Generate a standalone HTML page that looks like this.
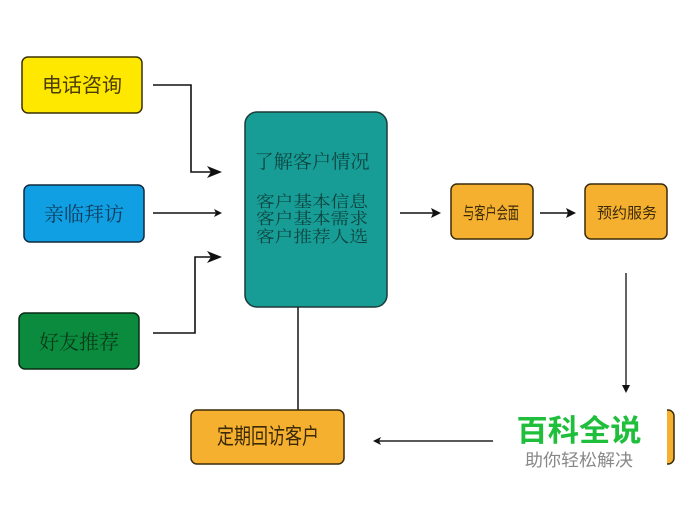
<!DOCTYPE html>
<html><head><meta charset="utf-8"><style>
html,body{margin:0;padding:0;background:#fff;}
svg{display:block;}
</style></head><body>
<svg width="692" height="505" viewBox="0 0 692 505" xmlns="http://www.w3.org/2000/svg">
<rect width="692" height="505" fill="#fff"/>
<!-- left boxes -->
<rect x="22" y="57" width="120" height="56" rx="6" fill="#ffe800" stroke="#3a3000" stroke-width="1.5"/>
<text x="82" y="92" text-anchor="middle" font-family="'Liberation Sans','Noto Sans CJK SC',sans-serif" font-size="20" fill="#4a3c05" textLength="80" lengthAdjust="spacingAndGlyphs">电话咨询</text>
<rect x="24" y="185" width="120" height="57" rx="6" fill="#109fe2" stroke="#0d2a40" stroke-width="1.5"/>
<text x="84" y="221" text-anchor="middle" font-family="'Noto Serif CJK SC','Liberation Serif',serif" font-size="20" fill="#0d3a5a" textLength="80" lengthAdjust="spacingAndGlyphs">亲临拜访</text>
<rect x="19" y="313" width="120" height="56" rx="6" fill="#0b8b3d" stroke="#0a2a15" stroke-width="1.5"/>
<text x="79" y="349" text-anchor="middle" font-family="'Noto Serif CJK SC','Liberation Serif',serif" font-size="20" fill="#0a3a1a" textLength="80" lengthAdjust="spacingAndGlyphs">好友推荐</text>

<!-- left connectors -->
<g stroke="#111" stroke-width="1.6" fill="none">
<polyline points="153,85 191,85 191,172 214,172"/>
<line x1="153" y1="213" x2="217" y2="213"/>
<polyline points="153,333 195,333 195,257 214,257"/>
</g>
<g fill="#111">
<path d="M222,172 L207,166 L211,172 L207,178 Z"/>
<path d="M222,213 L214,209 L216,213 L214,217 Z"/>
<path d="M222,257 L207,251 L211,257 L207,263 Z"/>
</g>

<!-- teal box -->
<rect x="245" y="112" width="142" height="195" rx="12" fill="#179d95" stroke="#1c3a38" stroke-width="1.5"/>
<text x="312" y="168" text-anchor="middle" font-family="'Noto Serif CJK SC','Liberation Serif',serif" font-size="19" fill="#0e4440" textLength="115" lengthAdjust="spacingAndGlyphs">了解客户情况</text>
<g font-family="'Noto Serif CJK SC','Liberation Serif',serif" font-size="16" fill="#0e4440" text-anchor="middle">
<text x="312" y="207" textLength="112" lengthAdjust="spacingAndGlyphs">客户基本信息</text>
<text x="312" y="224" textLength="112" lengthAdjust="spacingAndGlyphs">客户基本需求</text>
<text x="312" y="242" textLength="112" lengthAdjust="spacingAndGlyphs">客户推荐人选</text>
</g>
<line x1="298" y1="307" x2="298" y2="410" stroke="#222" stroke-width="1.6"/>

<!-- right flow -->
<line x1="400" y1="213" x2="433" y2="213" stroke="#111" stroke-width="1.6"/>
<path d="M441,213 L431,208 L433,213 L431,218 Z" fill="#111"/>
<rect x="451" y="184" width="82" height="55" rx="6" fill="#f6b030" stroke="#3a2a08" stroke-width="1.5"/>
<text x="491" y="219" text-anchor="middle" font-family="'Liberation Sans','Noto Sans CJK SC',sans-serif" font-size="17" fill="#3a2a08" textLength="56" lengthAdjust="spacingAndGlyphs">与客户会面</text>
<line x1="540" y1="213" x2="568" y2="213" stroke="#111" stroke-width="1.6"/>
<path d="M576,213 L566,208 L568,213 L566,218 Z" fill="#111"/>
<rect x="585" y="184" width="82" height="55" rx="6" fill="#f6b030" stroke="#3a2a08" stroke-width="1.5"/>
<text x="627" y="218" text-anchor="middle" font-family="'Liberation Sans','Noto Sans CJK SC',sans-serif" font-size="15" fill="#3a2a08" textLength="60" lengthAdjust="spacingAndGlyphs">预约服务</text>

<line x1="626" y1="273" x2="626" y2="387" stroke="#222" stroke-width="1.4"/>
<path d="M626,393 L622,385 L630,385 Z" fill="#111"/>

<!-- bottom -->
<rect x="510" y="410" width="164" height="54" rx="6" fill="#f6b030" stroke="#3a2a08" stroke-width="1.5"/>
<rect x="496" y="400" width="171" height="78" fill="#fff"/>
<rect x="191" y="410" width="153" height="54" rx="6" fill="#f6b030" stroke="#3a2a08" stroke-width="1.5"/>
<text x="268" y="444" text-anchor="middle" font-family="'Liberation Sans','Noto Sans CJK SC',sans-serif" font-size="22" fill="#3a2a08" textLength="102" lengthAdjust="spacingAndGlyphs">定期回访客户</text>
<line x1="493" y1="441" x2="379" y2="441" stroke="#222" stroke-width="1.4"/>
<path d="M373,441 L381,437 L379,441 L381,445 Z" fill="#111"/>

<!-- watermark -->
<text x="579" y="441" text-anchor="middle" font-family="'Liberation Sans','Noto Sans CJK SC',sans-serif" font-size="30" font-weight="bold" fill="#1fbf3c" textLength="125" lengthAdjust="spacingAndGlyphs">百科全说</text>
<text x="579" y="466" text-anchor="middle" font-family="'Liberation Sans','Noto Sans CJK SC',sans-serif" font-size="17" fill="#888" textLength="108" lengthAdjust="spacingAndGlyphs">助你轻松解决</text>
</svg>
</body></html>
